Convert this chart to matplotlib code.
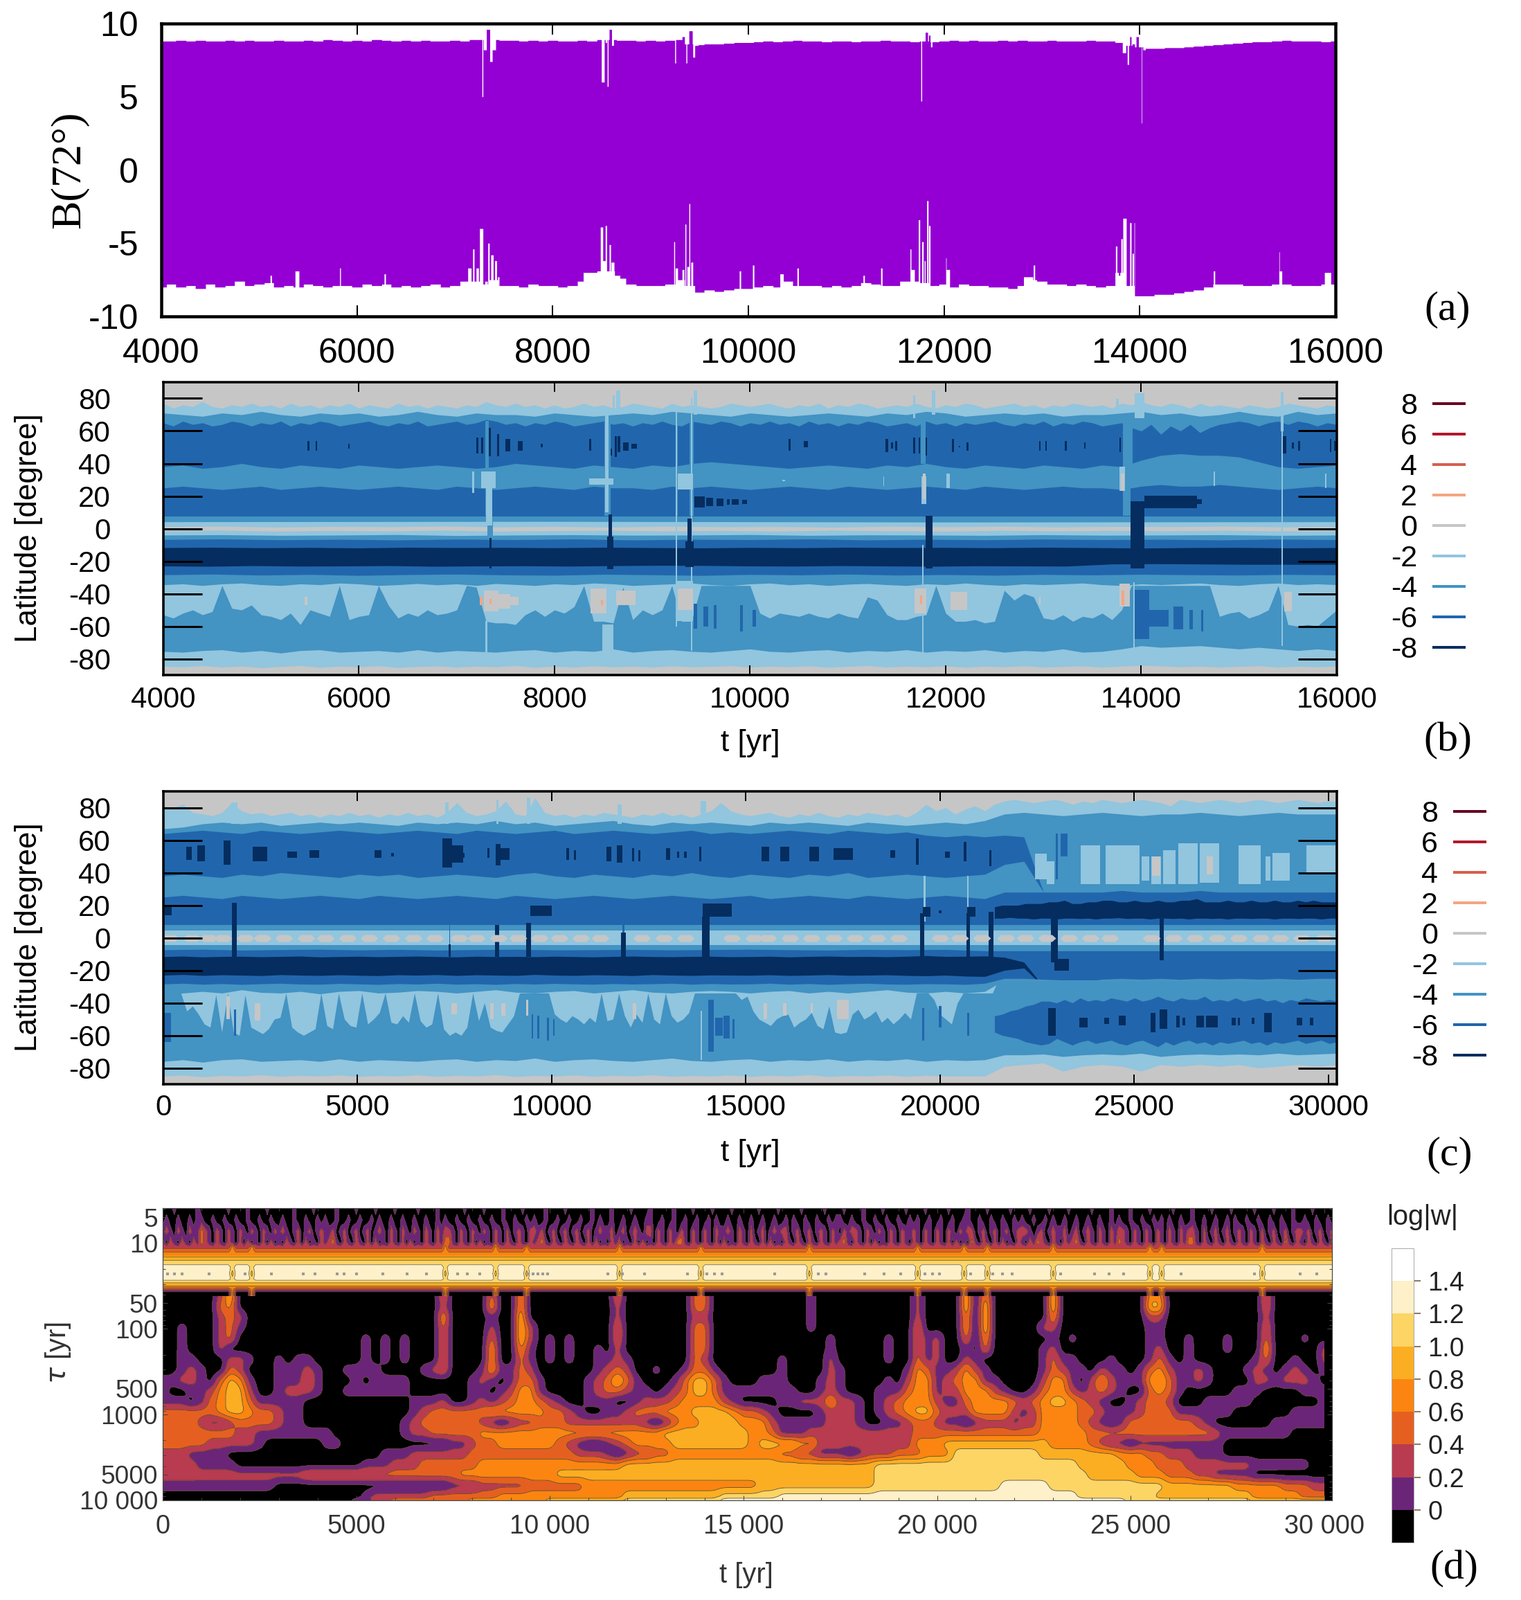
import numpy as np
import matplotlib
matplotlib.use('Agg')
import matplotlib.pyplot as plt
from matplotlib.lines import Line2D
from matplotlib import font_manager as fm

W, H = 2197, 2311
names = {f.name for f in fm.fontManager.ttflist}
SANS = ['Liberation Sans', 'DejaVu Sans']
NARROW = ['Liberation Sans Narrow', 'Liberation Sans'] if 'Liberation Sans Narrow' in names else SANS
SERIF = ['Liberation Serif', 'DejaVu Serif']
plt.rcParams['font.family'] = SANS
plt.rcParams['axes.unicode_minus'] = False

# ---------- shared ----------
LEV = {-8: '#052D5F', -6: '#2166AC', -4: '#4393C3', -2: '#92C5DE', 0: '#C6C6C6', 2: '#F4A582', 4: '#D6604D', 6: '#B2182B', 8: '#67001F'}
leg_vals = [8, 6, 4, 2, 0, -2, -4, -6, -8]

# ---------- panel a: envelope of B(72 deg), one value per 100 yr from 4000 ----------
a_up = [8.8,8.8,8.85,8.8,8.85,8.8,8.8,8.85,8.8,8.85,8.8,8.8,8.85,8.8,8.8,8.85,8.8,8.9,8.85,8.8,8.85,8.8,8.9,8.85,8.8,8.85,8.8,8.85,8.8,8.8,8.85,8.8,8.9,8.9,8.9,8.85,8.85,8.8,8.85,8.8,8.85,8.8,8.8,8.85,8.8,8.9,8.9,8.85,8.85,8.8,8.85,8.8,8.85,8.9,8.6,8.55,8.6,8.6,8.65,8.7,8.7,8.75,8.8,8.75,8.8,8.85,8.8,8.8,8.75,8.8,8.8,8.75,8.8,8.8,8.85,8.8,8.8,8.75,8.8,8.75,8.8,8.85,8.8,8.85,8.8,8.8,8.85,8.8,8.85,8.8,8.8,8.85,8.8,8.8,8.8,8.85,8.8,8.8,8.7,8.5,8.4,8.3,8.3,8.35,8.35,8.4,8.45,8.5,8.55,8.6,8.65,8.7,8.75,8.75,8.8,8.85,8.8,8.8,8.8,8.75,8.8]
a_lo = [-8.0,-7.8,-8.0,-7.9,-8.1,-7.8,-8.0,-7.9,-7.6,-7.9,-7.8,-7.7,-8.0,-7.9,-8.0,-7.8,-7.9,-8.0,-7.9,-7.9,-8.0,-7.8,-7.9,-7.8,-8.0,-7.9,-8.0,-7.9,-7.8,-8.0,-7.9,-7.6,-7.6,-7.8,-7.5,-7.9,-7.9,-8.0,-7.8,-7.9,-7.9,-8.0,-7.9,-7.6,-7.0,-6.9,-6.9,-7.4,-7.8,-7.9,-7.9,-7.9,-7.8,-7.5,-7.9,-8.35,-8.2,-8.3,-8.2,-8.1,-8.1,-8.0,-7.9,-8.0,-7.6,-7.9,-7.9,-7.9,-8.0,-7.9,-8.0,-7.9,-7.7,-7.8,-7.9,-7.9,-7.6,-7.6,-7.7,-7.9,-7.8,-8.0,-7.8,-7.9,-7.9,-8.0,-8.0,-8.1,-7.9,-7.5,-7.6,-7.8,-7.8,-7.9,-7.8,-7.9,-8.0,-7.9,-7.0,-7.9,-8.6,-8.6,-8.5,-8.5,-8.4,-8.3,-8.2,-8.0,-7.8,-7.8,-7.8,-7.9,-7.9,-7.9,-7.8,-7.8,-7.9,-7.9,-7.9,-7.8,-7.8]
a_up_t = [7283,7310,7340,7370,7400,8512,8545,8562,8590,8612,9254,9333,9368,9410,9443,9470,11767,11795,11820,11850,11868,13840,13880,13905,13935,13975,14005,14020,14045]
a_up_w = [12,30,30,20,30,30,15,12,20,20,10,25,10,30,20,30,10,20,25,15,15,30,12,15,20,20,10,8,20]
a_up_v = [5.0,8.2,9.6,7.4,8.2,6.0,8.7,5.7,9.6,8.5,7.3,9.1,7.3,9.5,7.7,8.5,4.7,8.8,9.4,9.2,8.4,8.0,7.2,9.1,8.6,9.1,8.4,3.2,8.2]
a_lo_t = [5120,5388,5826,6283,7150,7190,7230,7270,7318,7343,7378,7418,7443,8338,8375,8498,8527,8547,8587,8612,8660,9244,9265,9333,9358,9385,9398,9423,9915,10050,10340,10505,11180,11360,11660,11680,11743,11782,11802,11830,11850,12025,12040,12860,12920,13760,13790,13815,13845,13905,13930,13945,14760,15425,15440,15915,15920]
a_lo_w = [10,40,10,15,30,10,20,30,25,15,25,20,15,10,120,25,25,15,15,30,50,10,20,20,10,20,10,20,15,10,30,10,10,15,10,30,15,15,10,10,12,10,30,90,10,12,15,15,30,15,10,5,15,8,25,8,60]
a_lo_v = [-7.2,-6.9,-6.7,-7.1,-6.7,-5.4,-6.7,-4.0,-7.6,-5.0,-5.8,-6.2,-7.3,-5.5,-7.0,-3.9,-6.2,-3.8,-5.1,-6.3,-7.2,-4.9,-6.7,-6.8,-3.7,-6.6,-2.3,-6.3,-6.9,-6.5,-7.1,-6.7,-7.2,-6.7,-5.4,-6.8,-3.4,-4.9,-6.2,-2.1,-3.8,-6.0,-6.8,-7.3,-6.5,-5.2,-7.2,-4.7,-3.3,-3.6,-5.7,-3.6,-6.9,-5.6,-6.9,-5.8,-7.0]

# ---------- panel b: latitude of the top of each contour band ----------
b_e1 = [77,74,76,75,78,75,74,76,75,77,75,76,74,77,75,76,74,76,75,77,74,76,75,74,77,75,76,74,76,75,74,76,75,78,76,75,77,75,76,74,76,74,75,77,75,76,74,75,77,76,75,74,77,75,76,75,74,75,77,76,75,76,77,75,74,76,75,77,74,76,75,77,76,74,75,76,75,77,75,74,76,75,77,76,74,75,76,77,75,76,74,76,75,77,76,75,76,74,77,76,78,76,75,77,76,74,77,75,76,75,74,76,75,74,75,77,76,75,74,76,75]
b_e2 = [71,70,69,71,70,72,70,69,71,70,71,69,70,72,70,69,71,70,70,69,71,70,69,70,71,70,72,71,70,69,71,70,69,70,71,70,69,71,70,72,71,69,70,71,70,71,69,70,70,71,72,70,71,69,70,72,70,69,72,70,71]
b_e3 = [65,63,66,64,65,63,64,66,65,63,65,64,66,63,65,64,66,65,63,64,65,66,64,63,65,64,66,63,64,65,66,64,65,67,66,64,65,63,65,64,66,65,63,64,65,66,64,65,63,65,64,66,64,63,66,65,64,66,65,63,65,64,66,64,65,63,66,64,65,63,65,64,66,65,63,64,65,63,66,64,65,63,65,64,65,66,64,63,65,64,66,63,65,64,66,65,63,64,65,62,60,64,58,63,60,64,59,62,64,65,66,65,63,65,66,64,66,65,63,65,64]
b_e4 = [38,39,37,38,40,38,37,39,38,37,39,38,37,38,39,38,37,38,40,39,38,37,39,38,37,39,38,40,41,40,39,38,37,38,39,38,37,39,38,40,38,37,39,38,37,39,38,37,39,38,42,45,46,45,45,44,41,38,37,38,39]
b_e5 = [25,26,25,24,25,26,24,25,26,25,24,25,26,25,24,26,25,24,25,26,25,24,26,25,25,24,26,25,26,25,24,25,26,25,24,26,25,24,25,26,25,24,26,25,24,25,26,25,25,24,26,27,26,26,27,26,25,24,25,26,25]
b_e6 = [7.6,7.6]
b_e7 = [4.2,4.4,4.0,4.2]
b_e8 = [1.2,1.5,0.9,1.3,1.1,1.5,1.0,1.3,0.9,1.4,1.1,1.2,0.8,1.4,1.1,1.4,1.0,1.3,1.2,1.5,1.0,1.3]
b_e9 = [-1.4,-1.0,-1.6,-1.2,-1.5,-1.0,-1.6,-1.3,-1.1,-1.5,-1.2,-1.6,-1.0,-1.4,-1.6,-1.1,-1.5,-1.2,-1.4,-1.1,-1.5,-1.3]
b_e10 = [-4,-3.8,-4.2,-4,-3.7,-4.3,-4,-3.8,-4.1,-4,-3.7,-4.2,-3.9,-4,-4.2,-3.8,-4.1,-4,-3.8,-4.2,-4]
b_e11 = [-6.7,-6.4,-6.9,-6.6,-7,-6.5,-6.8,-6.4,-7,-6.6,-6.8,-6.4,-7,-6.6,-6.9,-6.5,-6.8,-6.6,-7,-6.5,-6.8]
b_e12 = [-11.7,-11.5,-11.8,-11.6,-11.9,-11.5,-11.7,-11.6,-11.8,-11.5,-11.7,-11.9,-11.6,-11.8,-11.5,-11.7,-11.6,-11.8,-11.5,-11.7,-12,-11.7,-11.6,-11.9,-11.7]
b_e13 = [-23,-23.2,-22.8,-23.1,-23,-22.8,-23.2,-23,-22.9,-23.1,-22.8,-22.6,-22.7,-23,-23.1,-22.8,-23,-23.2,-22.9,-23,-23.1,-21.8,-21.6,-21.8,-22,-22,-22]
b_e14 = [-28.4,-28,-28.6,-28.2,-28.8,-28.3,-28,-28.5,-28.7,-28.1,-28.4,-28.8,-28.2,-28.5,-28,-28.6,-28.3,-28.7,-28.2,-28.5,-28.1,-28.4,-28.6,-28.2,-28.5]
b_e15 = [-34.5,-34,-35,-34,-33.5,-34.5,-35,-34,-34.5,-33.5,-34,-35,-34.5,-33.8,-34.6,-34,-35,-33.8,-34.4,-35,-34,-34.5,-33.5,-34,-35,-34.5,-34,-33.5,-34.5,-35,-34,-33.5,-34.6,-34,-35,-34.2,-33.8,-34.5,-35,-34,-34.5,-33.5,-34.4,-35,-34,-34.5,-34,-33.5,-34.5,-35,-34,-34.5,-34,-33.5,-34.5,-35,-34,-33.5,-34.5,-34,-34.5]
b_e16 = [-53,-55,-52,-50,-53,-51,-35,-49,-50,-47,-53,-54,-56,-52,-59,-50,-52,-54,-35,-56,-54,-53,-35,-47,-55,-52,-54,-50,-53,-52,-50,-35,-36,-57,-58,-58,-59,-53,-50,-54,-50,-52,-48,-35,-57,-57,-58,-36,-56,-50,-53,-50,-35,-57,-57,-35,-35,-35,-35,-35,-35,-52,-55,-52,-53,-54,-52,-54,-55,-52,-54,-55,-42,-44,-53,-56,-56,-54,-53,-35,-52,-57,-57,-56,-58,-57,-38,-44,-40,-42,-55,-56,-53,-57,-54,-55,-52,-56,-50,-35,-35,-35,-35,-35,-35,-35,-35,-35,-54,-52,-51,-55,-53,-50,-35,-59,-60,-59,-60,-55,-50]
b_e17 = [-75.5,-76,-75,-74.5,-76,-75,-76.5,-75,-74.5,-76,-75.5,-75,-76,-74.5,-76,-75,-75.5,-76,-75,-74.5,-76,-75,-75.5,-74,-76,-75,-74.5,-75.5,-76,-75,-74,-75.5,-76,-75,-74.5,-76,-75,-75.5,-74.5,-76,-75,-75.5,-74.5,-76,-75,-75.5,-74,-76,-75.5,-74,-72,-73,-72.5,-72,-73,-74,-73,-74,-75,-74,-75]
b_e18 = [-84.6,-85,-84.2,-85.2,-84.5,-85.5,-84.8,-84.2,-85.3,-84.6,-85,-84.3,-85.4,-84.8,-84.4,-85.2,-84.6,-85,-84.2,-85.3,-84.7,-85.2,-84.4,-85,-84.6,-85.2,-84.4,-85,-84.7,-84.3,-85.2,-84.6,-85,-84.4,-85.3,-84.7,-84.2,-85.2,-84.6,-85,-84.4,-85.3,-84.6,-85,-84.3,-85.2,-84.8,-84.4,-85.2,-84.6,-84,-84.4,-85,-84.6,-85.2,-84.7,-84.3,-85.2,-84.6,-85,-84.5]
# contour patches of panel b: centre time, width, lower and upper latitude, level
b_t = [5483,5567,5895,7209,7259,7333,7423,7522,7647,7870,8366,8570,8626,8659,8729,8813,10405,10572,11397,11450,11495,11678,11730,11802,12074,12139,12223,12965,13025,13228,13421,13782,15465,15550,15614,15936,15985,
       9441,9547,9642,9910,10042,14005,14180,14378,14510,14625,
       11770,13880,7340,7310,8540,9250,9400,13850,
       7330,7300,7170,7325,8477,8535,8545,8650,8603,9246,9336,9336,9400,9441,11767,11780,11876,11678,12025,13806,13980,13757,13925,15440,15440,15886,14747,11366,10342,
       7350,7475,7580,8450,8729,9336,5460,11740,12135,13830,15502,12965,11780,13810,
       7250,8486,11750,13810,7345,
       7345,8570,8570,9380,9380,11827,13960,14300,14595,9483,9587,9693,9777,9846,9944]
b_w = [25,15,15,20,25,30,25,50,50,20,25,30,20,30,60,60,25,45,30,25,25,25,15,15,20,15,25,15,15,15,15,15,30,25,15,15,25,
       30,45,30,30,30,150,200,95,30,20,
       50,60,60,30,60,15,40,80,
       60,20,20,150,250,30,110,40,20,10,153,163,15,40,12,50,40,25,30,60,100,25,12,25,10,15,8,12,30,
       150,150,100,167,196,155,30,120,170,100,75,15,30,40,
       30,20,20,30,20,
       20,40,70,40,80,70,140,540,50,100,70,70,30,70,50]
b_lo = [48,48,49,46,46,44.5,44.5,47.5,48,50,48,45,44,47,48,49,48,50,47,49,48,46,46,45,47,50,48,48,48,48,49,47,46,49,48,47,48,
        -61.5,-60,-61.5,-63,-60,-68,-60,-62,-62,-63,
        40,40,-5,8,8,8,8,8,
        2,-85,22,25,27,10,-83,70,70,-60,24,-57,-75,70,-85,15,70,68,25,23,68,72,-77,60,-72,25,26,26,29,
        -51,-49,-47,-52,-47,-50,-47,-52,-50,-48,-51,-47,18,23,
        -47,-47,-46,-47,-46,
        -24.6,-5,-25,-8,-23.5,-24.6,-24.6,12.6,15,13,14,14,14.5,14.5,15]
b_hi = [54,54,52,56,56,62,58,55,54,52,55,49,57,57,53,52,55,54,55,53,54,56,56,56,55,51,53,54,54,54,53,56,57,53,54,55,54,
        -46,-48,-47,-47,-50,-37.5,-50,-48,-50,-50,
        66,66,5,66,66,66,66,66,
        32,-57,35,35,31,71,-59,85,82,75,34,-32,80,85,-10,32,85,82,34,38,83,80,-33,84,60,34,35,32,30,
        -38,-40,-42,-37,-38,-37,-42,-37,-39,-34,-39,-42,34,34,
        -42,-44,-41,-38,-43,
        -5.6,8.9,-5,6,-8,8,17,20,18,20,19,18.5,18,18,17.5]
b_lev = [-8]*37 + [-6]*10 + [-4]*8 + [-2]*29 + [0]*14 + [2]*5 + [-8]*15

# ---------- panel c ----------
c_e1 = [81,80,82,77,76,75,77,83,78,76,77,75,76,77,75,76,74,76,75,77,75,76,74,76,75,77,75,76,74,77,83,77,75,76,78,84,76,75,86,77,75,76,74,76,75,77,76,75,74,76,75,77,75,76,74,76,78,83,78,76,75,76,77,75,74,76,75,77,75,74,76,75,77,76,75,76,74,77,82,78,80,76,79,81,78,82,84,85,84,83,84,85,84,82,84,83,85,84,83,84,85,84,83,81,85,84,83,84,85,84,83,84,85,84,83,84,85,84,83,84,84]
c_e2 = [67,68,70,71,70,71,69,70,71,70,71,70,69,71,70,71,70,72,70,71,69,70,71,72,70,69,71,70,71,70,69,71,70,71,70,69,71,70,69,70,71,70,72,76,77,76,75,76,77,76,75,76,76,77,76,75,76,77,76,76,76]
c_e3 = [64,65,66,65,64,66,65,64,65,66,65,64,65,66,65,64,66,65,64,65,66,64,65,66,65,64,65,66,64,65,64,65,66,65,64,66,65,64,65,63,62,63,62,63,62,28,28,28,28,28,28,28,28,28,28,28,28,28,28,28,28]
c_e4 = [38,39,38,37,39,38,40,39,38,37,39,38,39,37,38,39,38,37,39,40,38,37,39,38,37,39,38,40,38,37,39,38,37,39,38,40,37,38,39,38,37,38,39,45,47,28,28,28,28,28,28,28,28,28,28,28,28,28,28,28,28]
c_e5 = [25,26,25,24,26,25,24,25,26,25,24,26,25,24,25,26,25,24,26,25,24,25,26,25,24,25,26,25,24,25,26,24,25,26,25,24,26,25,24,25,26,25,24,28,28,28,28,28,28,29,28,28,28,29,28,28,28,28,28,28,28]
c_e6 = [7.8,7.8]
c_e7 = [4.4,4.4]
c_e10 = [-4.5,-4.5]
c_e11 = [-7.4,-7.1,-7.6,-7.3,-7.1,-7.5,-7.2,-7.6,-7.3,-7.1,-7.5,-7.4,-7.2,-7.5,-7.3,-7.1,-7.4,-7.6,-7.2,-7.4,-7.2,-8,-8,-8,-8,-8,-8,-8,-8,-8,-8]
c_e12 = [-11.6,-11.3,-11.8,-11.5,-11.4,-11.7,-11.5,-11.3,-11.8,-11.6,-11.4,-11.7,-11.5,-11.3,-11.6,-11.8,-11.4,-11.6,-11.5,-11.7,-11.4,-11.6,-11.8,-11.5,-11.3,-11.6,-11.7,-11.5,-11.4,-11.7,-11.6,-11.4,-11.8,-11.5,-11.3,-11.6,-11.5,-11.7,-11.4,-11,-11.5,-11.4,-11.2,-12,-15,-30,-30,-30,-30,-30,-30,-30,-30,-30,-30,-30,-30,-30,-30,-30,-30]
c_e13 = [-23,-22.6,-23.2,-22.8,-23,-23.3,-22.7,-23,-23.2,-22.8,-23.1,-23.3,-22.8,-23,-22.7,-23.2,-22.8,-23,-23.2,-22.6,-23,-23.2,-22.8,-23,-23.3,-22.7,-23,-23.2,-22.9,-23,-23.1,-22.8,-23.2,-23,-22.7,-23.1,-23,-22.8,-23.2,-23.4,-23,-23.6,-23.8,-20,-18.6,-30,-30,-30,-30,-30,-30,-30,-30,-30,-30,-30,-30,-30,-30,-30,-30]
c_e14 = [-28.4,-28,-28.6,-28.2,-28.7,-28.3,-28,-28.5,-28.6,-28.1,-28.4,-28.7,-28.2,-28.5,-28,-28.6,-28.3,-28.7,-28.2,-28.5,-28.1,-28.4,-28.6,-28.2,-28.5,-28.3,-28,-28.6,-28.2,-28.5,-28.4,-28,-28.6,-28.2,-28.7,-28.3,-28,-28.5,-28.6,-28.3,-28.4,-28.7,-28,-25,-25,-25.5,-26,-27,-25.5,-25,-25.5,-25,-25.6,-25,-25.4,-25,-25.5,-25,-25.6,-25,-25]
c_e15 = [-35,-34,-33,-34,-32,-33.6,-34,-33,-34.5,-33,-32.5,-34,-33.5,-32.5,-33,-34,-33,-32,-33.5,-34,-33,-32.5,-34,-33,-32,-33.5,-34,-33,-32.5,-33,-34,-33,-32.5,-34,-33,-34,-33,-32,-33.5,-34,-33,-34,-33,-26,-26,-26,-26,-26,-26,-26,-26,-26,-26,-26,-26,-26,-26,-26,-26,-26,-26]
c_e16 = [-34,-34,-34,-34,-45,-42,-47,-53,-55,-35,-58,-34,-58,-60,-35,-55,-57,-59,-56,-50,-49,-34,-55,-58,-60,-58,-56,-34,-54,-56,-34,-50,-54,-55,-34,-53,-50,-46,-34,-52,-53,-48,-52,-34,-51,-55,-53,-34,-56,-60,-58,-60,-55,-34,-51,-40,-55,-57,-58,-53,-48,-34,-34,-34,-34,-34,-34,-47,-50,-52,-48,-50,-53,-49,-52,-34,-51,-50,-34,-48,-55,-47,-52,-34,-50,-53,-34,-48,-52,-50,-46,-34,-34,-34,-34,-34,-34,-34,-34,-38,-36,-45,-50,-52,-54,-50,-48,-47,-55,-52,-50,-46,-54,-56,-42,-58,-59,-58,-47,-44,-50,-48,-45,-52,-49,-53,-50,-46,-50,-34,-34,-34,-38,-47,-50,-53,-40,-34,-34,-34,-34,-34,-34] + [-26]*59
c_e17 = [-76,-75,-76.5,-75,-74.5,-76,-75.5,-75,-76,-74.5,-76,-75,-75.5,-76,-75,-74.5,-76,-75,-75.5,-74,-76,-75,-74.5,-75.5,-76,-75,-74,-75.5,-76,-75,-74.5,-76,-75,-75.5,-74.5,-76,-75,-75.5,-74.5,-76,-75,-75.5,-75,-72,-72,-71.5,-73,-72,-71.5,-72,-71,-73,-72,-71.5,-72,-71.5,-72,-71,-72,-71.5,-71]
c_e18 = [-85,-84.5,-85.5,-84.7,-85,-84.3,-85.2,-84.6,-85,-84.4,-85.3,-84.7,-85,-84.3,-85.2,-84.6,-85,-84.2,-85.3,-84.7,-85,-84.4,-85.2,-84.6,-85,-84.3,-85.2,-84.7,-85,-84.4,-85.3,-84.6,-85,-84.2,-85.3,-84.7,-85,-84.4,-85.2,-84.6,-85,-85,-85,-79,-78,-77,-82,-79,-78,-79,-82,-78,-79,-78,-79,-78,-80,-79,-78,-79,-78]
c_n8_top = [19,20,20,20,21,21,21,22,22,23,21,21,22,22,23,23,22,22,23,22,22,23,22,22,23,23,24,22,22,22,23,22,22,23,22,22,23,22,22,23,22,23,22,22,22]
c_n8_bot = [12,12,12.5,12,12,11.5,12,12,11.5,12,12,11.8,12,11.5,12,12,12.3,11.8,12,12,11.5,12,12,11.8,12,11.5,12,12,11.8,12,11.5,12,12,11.8,12,12,11.5,12,12,11.8,12,12,11.5,12,12]
c_s6_top = [-48,-47,-45,-44,-42,-41,-39,-39,-40,-38,-40,-37,-39,-38,-39,-37,-38,-39,-37,-39,-38,-36,-38,-39,-37,-38,-38,-36,-39,-38,-39,-37,-39,-38,-37,-39,-38,-40,-38,-39,-37,-38,-39,-38,-39]
c_s6_bot = [-58,-60,-61,-62,-64,-65,-66,-65,-62,-64,-66,-64,-63,-65,-64,-63,-65,-66,-64,-63,-65,-67,-64,-66,-64,-63,-65,-64,-66,-64,-65,-64,-63,-65,-64,-66,-64,-65,-64,-63,-65,-64,-63,-65,-64]
c_hex_t = [160,727,1165,1540,2105,2544,3108,3672,4173,4737,5300,5865,6430,6992,7619,8058,8622,9123,9687,10188,10752,11253,12318,12882,13446,14637,15200,15562,16125,16688,17250,17812,18375,18937,20000,20500,21062,21688,22188,22750,23312,23875,24375,25437,26000,26562,27125,27687,28250,28750,29312,29875]
c_t = [22590,22840,23875,24690,25280,25560,25900,26375,26940,27970,28440,28780,29800,
       25560,26940,1670,2420,7490,8460,8750,9370,12130,15500,16000,17500,16690,
       1830,7300,8600,9400,11750,13900,19600,20710,13850,
       100,1850,9500,9650,9900,10050,14100,14300,14500,14680,19560,20000,20725,23000,23190,
       11840,7370,8590,9400,
       660,975,1640,2480,3320,3885,5525,5900,7300,7530,7730,8370,8620,8785,10410,10600,11465,11750,12090,12255,13000,13250,13440,13820,15500,16000,16750,17500,18775,19410,20190,20640,21290,
       1830,7370,8590,9400,11840,13970,14260,9720,130,19540,19655,20000,20725,20800,21310,22940,23125,25700,
       22875,23690,24290,24690,25475,25750,26125,26275,26690,27000,27560,27690,28060,28440,29250,29560]
c_w = [310,190,500,875,190,250,310,500,500,560,125,440,750,
       200,150,100,150,150,100,100,60,100,100,100,300,60,
       150,100,60,100,100,150,40,30,25,
       190,60,50,50,50,40,150,200,150,40,60,60,60,60,190,
       60,30,30,30,
       150,190,190,375,250,250,175,60,250,375,60,60,125,250,60,60,125,150,60,60,100,60,60,60,190,225,250,500,125,60,125,60,60,
       125,50,100,125,125,190,760,560,185,100,190,60,100,220,125,175,370,100,
       190,225,125,190,125,190,100,60,190,310,100,60,60,190,150,100]
c_lo = [36,33,33,33,35,33,33,33,34,33,35,35,40,
        38,39,-50,-51,-47,-50,-48,-48,-50,-50,-48,-50,-46,
        70,70,70,70,70,72,10,10,-75,
        -64,-60,-62,-62,-63,-60,-70,-60,-62,-62,-63,-55,-60,36,50,
        3,-4,8,8,
        48,47,45,47,49,49,49,50,43,46,49,49,44.5,48,48,48,47,46,47,47,48,49,49,47,47,47,47,48,49,45,49,47,44,
        -11.6,-11.6,-11.6,-11.6,-12,-12,13,13.2,14,-11.6,13,15,-11.6,13,-12,-15,-20,-14,
        -60,-55,-53,-54,-58,-56,-55,-54,-55,-55,-54,-54,-53,-58,-54,-54]
c_hi = [51.5,47,57,57,50,50,54,58,58,57,50,52,57,
        50,50,-36,-40,-40,-40,-40,-38,-40,-40,-40,-38,-40,
        83,83,85,86,82,84,38,38,-45,
        -46,-44,-47,-48,-49,-50,-38,-49,-48,-50,-43,-42,-46,64,64,
        24,24,12,14,
        56,57,60,56,53,54,54,52,61,57,52,55,57.5,55,55,54,56,57,55,54,55,53,53,56,56,56,56,55,54,61,53,59,54,
        21.7,-4,8,9,3.3,13,21,19.6,19,15.3,19,17,15,19,16,11.8,-13,11.8,
        -43,-49,-49,-48,-46,-44,-48,-49,-48,-48,-49,-49,-49,-46,-49,-49]
c_lev = [-2]*13 + [0]*13 + [-2]*9 + [-6]*15 + [-6]*4 + [-8]*33 + [-8]*18 + [-8]*16

# ---------- panel d: log|w| classes, digit n means the class -0.2+0.2n .. 0.2n ----------
d_row_tau = [41,55,73,97,129,171,227,301,399,529,702,931,1235,1638,2172,2881,3821,5068,6721,8914,10000]
d_rows = [
"0000002500 0000000000 0000000003 0000300400 0000000300 0000033000 0000000100 0000000020 0005040000 0050000000 0044000000 0000300000 0",
"0000003400 0000000000 0000000002 0000400400 0000000200 0000033000 0000000100 0000000020 0005050000 0050000000 0055000000 0000300000 0",
"0000002320 0000000000 0000000004 0000100500 0000000200 0000022000 0000000100 0000000020 0004050000 0040000000 0022000000 0000200000 0",
"0010002310 0000000000 0000000003 0000200520 0000000300 0000033000 0000000100 0000000030 0004050000 0220000000 0011000000 0000300000 0",
"0010002300 0000000000 0101010003 0000300520 1010000300 0000033000 0000000001 0000010031 2003040000 0010100000 0011001000 1000300010 0",
"0010002000 0000000000 0101010003 0000400410 1010010200 0000033000 0000000001 0000010031 2001030000 0120000000 0012001000 1000400000 2",
"0011000221 0010110000 0101010003 0000400310 1010011210 0000032000 0000100002 0000010031 2002100000 0131100010 0013101000 0001300100 2",
"0012100320 0011121001 1110000123 0001411320 0000012320 0100133100 0000100002 1000000143 1124210000 0132110211 0134211210 0012101210 1",
"1122103541 0011131000 1011110000 0012101331 0000123531 0001355310 0011100012 1000010244 1234411000 0244102421 1145311210 0002212221 0",
"1001124552 0012221001 1111110000 0011012441 0000123321 1012355311 1111110012 1000111344 1224442100 1344212321 0034310000 0111000011 1",
"1110134553 1111100000 0000001112 0012123443 2100111001 2223444421 0000112224 2210123444 2113444432 3455432100 1233200011 1110000000 1",
"3333334554 3321100000 0000001233 3333444444 3321001123 3344455554 3321000012 2210123455 3222444421 2444433211 1233311111 1000000111 1",
"3333211233 3321100000 0000012333 3332101223 3322222222 1013445555 4442111112 2210011233 2110122212 2444432101 3333333210 0000011111 1",
"3333333322 1111111100 0000012233 3334444444 4444444444 4455555555 5443111222 2222222233 3333333333 3444443333 3333333332 1111111000 0",
"3333322222 1000000110 0000000000 1123344444 4321001234 4445555555 5455554422 2222222244 4555555555 5544443211 0111111111 0000000000 0",
"2221111000 0000000000 0001112222 2233333333 3332221012 2334444444 4444332211 1012223334 4466666666 6555555554 4433222111 0000000000 0",
"2222111100 0000000000 0111222333 3334444444 4444444455 5555555555 5555555555 5555666666 6666666666 6666655555 4443332222 2221111110 0",
"2222222222 2222233333 3333333333 3444444444 4555555555 5555555555 5555555555 5555666666 6666666666 6666665555 5444333221 1110000000 0",
"1111111111 1100000000 0000000000 1112222233 3333444444 4444444444 4455555555 5555666666 6666666777 7766666666 6666555555 5444443332 2",
"0000000000 0000000000 0122222233 3333344444 4444444455 5555555566 6666777777 7777777777 7777777777 7777766666 6665555555 5554444433 3",
"0000000000 0000000000 1122333333 3344444444 5555555566 6666666677 7777777777 7777777777 7777777777 7777777777 6666666666 6665555555 5",
]
# band around the 22 yr scale and the fine spikes above it, one digit per 100 yr
d_top_tau = [3.9, 5.35, 7.3, 9.7]
d_top_rows = [
"000100000100000001000010000100 000010000100000100001000010000 100000100001000000100001000010 000100000100001000000100001000 010000100000100001000010000100 000010000100000100000100001000 010000100000100001000001000010 000100000100001000010000100000 100001000010000100000100001000 010000100000100001000010000100 000",
"010010010110010010010010010010 010010010010100100100100101001 001001001001010010010010010010 010010100100100100100101001001 001001100100100100100101001001 001001001001010010010010110010 010010010010010100100100100110 010010010010100100101001001001 001001010010010010101001001001 001001010010010010010010010010 010",
"121021021132102102102102102102 121012012012112012012012012102 102102102102122102102102102102 012102212012012012012012112012 012102202102102102102102112102 102012012122012012012102102122 102102102102112102102102102122 012012012012221012012112012012 102102122102102102102102122102 012012012102102012012012212012 012",
"202102102132102102102020102020 102102020102123102102102020102 102020102102133102102020102102 102102123102102102102020102120 102020102102133102102102020102 102102020102102102102102123102 102020102102102102102102020103 102102020102102132102102123102 102102132102102102102102133102 102102102102102102103102102102 102",
]
d_band_tau = [11.2, 12.0, 13.5, 15.1, 16.7, 19, 22.7, 26.1, 28, 30, 32.3, 34.6, 37.7, 41]
d_band_base = [2, 3, 4, 5, 6, 7, 7, 7, 6, 5, 4, 2, 0, 0]
d_band_event = [4, 4, 4, 5, 6, 6, 5, 6, 6, 5, 4, 4, 4, 4]
d_event_t = [1800, 2300, 7300, 8600, 9400, 11800, 13900, 16700, 19500, 20700, 21300, 23000, 25500, 25800, 28400]
d_dots_t = [125,312,500,1190,2125,2810,3625,3940,4500,4690,5000,5690,6310,6810,7625,7875,8190,9440,9560,9690,9810,9940,11500,11875,12440,13560,14060,14250,14440,15810,16940,17125,18125,18625,19060,19690,19875,20060,20875,21440,21690,21940,23190,24060,24440,24810,26310,28190,29375,29810]
d_levels = [-0.2, 0, 0.2, 0.4, 0.6, 0.8, 1.0, 1.2, 1.4, 1.6]
d_colors = ['#000000', '#6B2578', '#B83B50', '#E56020', '#FB8510', '#FCAE22', '#FDD565', '#FEF0C8', '#FFFFFF']

# ---------- figure ----------
fig = plt.figure(figsize=(W / 100, H / 100), dpi=100)
def axes_px(l, t, r, b):
    return fig.add_axes([l / W, 1 - b / H, (r - l) / W, (b - t) / H])
def px(v):
    return v * 0.72

# panel a
axa = axes_px(233, 34, 1929, 457)
tt = np.arange(4000, 16001, 5.0)
idx = np.rint((tt - 4000) / 100).astype(int)
up = np.array(a_up)[np.minimum(idx, len(a_up) - 1)]
lo = np.array(a_lo)[np.minimum(idx, len(a_lo) - 1)]
for t, w, v in zip(a_up_t, a_up_w, a_up_v):
    up[np.abs(tt - t) <= w / 2] = v
for t, w, v in zip(a_lo_t, a_lo_w, a_lo_v):
    lo[np.abs(tt - t) <= w / 2] = v
axa.fill_between(tt, lo, up, step='mid', color='#9400D3', lw=0)
axa.set_xlim(4000, 16000); axa.set_ylim(-10, 10)
axa.set_xticks(range(4000, 16001, 2000)); axa.set_yticks(range(-10, 11, 5))
axa.tick_params(axis='x', direction='in', top=True, length=px(16), width=px(2), labelsize=px(50), pad=px(31))
axa.tick_params(axis='y', length=0, labelsize=px(50), pad=px(33))
axa.set_axisbelow(False)
for s in axa.spines.values():
    s.set_linewidth(px(4.5))
fig.text(100 / W, 1 - 245 / H, 'B(72°)', rotation=90, family=SERIF, fontsize=px(62), ha='center', va='center')
fig.text(2091 / W, 1 - 447 / H, '(a)', family=SERIF, fontsize=px(60), ha='center', va='center')

def contour_panel(ax, tlim, edges):
    ax.set_facecolor(LEV[0])
    for vals, lev in edges:
        t = np.linspace(tlim[0], tlim[1], len(vals))
        ax.fill_between(t, -90, vals, color=LEV[lev], lw=0)

def finish_panel(ax, tlim, xticks, xlab_y, leg_xy, letter, letter_xy, yl_y, pad_x, ysize):
    ax.bar(BAR[0], np.array(BAR[3]) - np.array(BAR[2]), width=BAR[1], bottom=BAR[2],
           color=[LEV[v] for v in BAR[4]], lw=0, align='center')
    ax.set_xlim(*tlim); ax.set_ylim(-90, 90)
    ax.set_xticks(xticks); ax.set_yticks(range(-80, 81, 20))
    ax.tick_params(axis='x', direction='in', top=True, length=px(14), width=px(2), labelsize=px(42), pad=px(pad_x))
    ax.tick_params(axis='y', direction='in', right=True, length=px(56), width=px(3), labelsize=px(ysize), pad=px(76))
    ax.set_axisbelow(False)
    for s in ax.spines.values():
        s.set_linewidth(px(3.5))
    h = [Line2D([], [], color=LEV[v], lw=px(4)) for v in leg_vals]
    ax.legend(h, [str(v) for v in leg_vals], loc='center', bbox_to_anchor=(leg_xy[0] / W, 1 - leg_xy[1] / H),
              bbox_transform=fig.transFigure, frameon=False, markerfirst=False, fontsize=px(43),
              handlelength=1.03, handletextpad=0.55, labelspacing=0.095, borderpad=0, borderaxespad=0)
    fig.text(1084 / W, 1 - xlab_y / H, 't [yr]', fontsize=px(44), ha='center', va='center')
    fig.text(42 / W, 1 - yl_y / H, 'Latitude [degree]', rotation=90, fontsize=px(44), ha='center', va='center')
    fig.text(letter_xy[0] / W, 1 - letter_xy[1] / H, letter, family=SERIF, fontsize=px(60), ha='center', va='center')

# panel b
axb = axes_px(236, 552, 1931, 975)
tb_lim = (4000, 16000)
contour_panel(axb, tb_lim, [(b_e1, -2), (b_e2, -4), (b_e3, -6), (b_e4, -4), (b_e5, -6), (b_e6, -4), (b_e7, -2), (b_e8, 0), (b_e9, -2),
                            (b_e10, -4), (b_e11, -6), (b_e12, -8), (b_e13, -6), (b_e14, -4), (b_e15, -2), (b_e16, -4), (b_e17, -2), (b_e18, 0)])
BAR = (b_t, b_w, b_lo, b_hi, b_lev)
finish_panel(axb, tb_lim, list(range(4000, 16001, 2000)), 1073, (2062, 763), '(b)', (2091, 1070), 763, 16, 42)

# panel c
axc = axes_px(236, 1143, 1931, 1566)
tc_lim = (0, 30214)
contour_panel(axc, tc_lim, [(c_e1, -2), (c_e2, -4), (c_e3, -6), (c_e4, -4), (c_e5, -6), (c_e6, -4), (c_e7, -2),
                            (c_e10, -4), (c_e11, -6), (c_e12, -8), (c_e13, -6), (c_e14, -4), (c_e15, -2), (c_e16, -4), (c_e17, -2), (c_e18, 0)])
ts = np.linspace(21400, 30214, len(c_n8_top))
axc.fill_between(ts, c_n8_bot, c_n8_top, color=LEV[-8], lw=0)
axc.fill_between(ts, c_s6_bot, c_s6_top, color=LEV[-6], lw=0)
hex_marker = [(-2.6, 0), (-1.5, 1), (1.5, 1), (2.6, 0), (1.5, -1), (-1.5, -1), (-2.6, 0)]
axc.scatter(c_hex_t, np.zeros(len(c_hex_t)), marker=hex_marker, s=px(26) ** 2, color=LEV[0], lw=0, zorder=2)
BAR = (c_t, c_w, c_lo, c_hi, c_lev)
finish_panel(axc, tc_lim, list(range(0, 30001, 5000)), 1665, (2092, 1352), '(c)', (2094, 1668), 1354, 14, 42)

# panel d
def refine(Z, n=6):
    ny, nx = Z.shape
    ix = np.linspace(0, nx - 1, (nx - 1) * n + 1)
    iy = np.linspace(0, ny - 1, (ny - 1) * n + 1)
    Zx = np.array([np.interp(ix, np.arange(nx), r) for r in Z])
    Zf = np.array([np.interp(iy, np.arange(ny), c) for c in Zx.T]).T
    k = np.array([1, 2, 3, 2, 1]) / 9.0
    for _ in range(2):
        Zf = np.apply_along_axis(lambda r: np.convolve(np.pad(r, 2, mode='edge'), k, mode='valid'), 1, Zf)
        Zf = np.apply_along_axis(lambda c: np.convolve(np.pad(c, 2, mode='edge'), k, mode='valid'), 0, Zf)
    return ix, iy, Zf

axd = axes_px(235, 1745, 1924, 2167)
axd.set_facecolor('black')
Z = np.array([[-0.1 + 0.2 * int(ch) for ch in r.replace(' ', '')] for r in d_rows])
ix, iy, Zf = refine(Z)
t_main = ix * 30000 / (Z.shape[1] - 1)
tau_main = 10 ** np.interp(iy, np.arange(len(d_row_tau)), np.log10(d_row_tau))
cs = axd.contourf(t_main, tau_main, Zf, levels=d_levels, colors=d_colors)
axd.contour(t_main, tau_main, Zf, levels=d_levels[1:-1], colors='#5A4A30', linewidths=0.6)
tops = np.array([[-0.1 + 0.2 * int(ch) for ch in r.replace(' ', '')] for r in d_top_rows])
t_top = np.arange(tops.shape[1]) * 100.0
band = np.tile(np.array(d_band_base, float)[:, None], (1, tops.shape[1]))
cols = np.rint(np.array(d_event_t) / 100).astype(int)
band[:, cols] = np.array(d_band_event)[:, None]
band = -0.1 + 0.2 * band
Zt = np.vstack([tops, band])
tau_t = d_top_tau + d_band_tau
axd.contourf(t_top, tau_t, Zt, levels=d_levels, colors=d_colors)
axd.contour(t_top, tau_t, Zt, levels=d_levels[1:-1], colors='#5A4A30', linewidths=0.5)
axd.scatter(d_dots_t, np.full(len(d_dots_t), 22.7), s=7, color='#9A9A9A', marker='s', lw=0, zorder=3)
axd.set_yscale('log')
axd.set_xlim(0, 30200); axd.set_ylim(10000, 3.9)
axd.set_xticks(range(0, 30001, 5000))
axd.set_xticklabels(['0', '5000', '10 000', '15 000', '20 000', '25 000', '30 000'], family=NARROW, color='#333333')
axd.set_xticks(range(0, 30001, 1000), minor=True)
axd.set_yticks([5, 10, 50, 100, 500, 1000, 5000, 10000])
axd.set_yticklabels(['5', '10', '50', '100', '500', '1000', '5000', '10 000'], family=NARROW, color='#333333')
axd.tick_params(axis='x', which='major', direction='in', top=True, length=px(7), width=px(1), labelsize=px(38), pad=px(20), color='#444444')
axd.tick_params(axis='x', which='minor', direction='in', top=True, length=px(4), width=px(1), color='#444444')
axd.tick_params(axis='y', which='major', direction='in', right=True, length=px(7), width=px(1), labelsize=px(37), pad=px(7), color='#444444')
axd.tick_params(axis='y', which='minor', direction='in', right=True, length=px(4), width=px(1), color='#444444', labelleft=False)
axd.set_axisbelow(False)
for s in axd.spines.values():
    s.set_linewidth(px(1.2)); s.set_color('#444444')
fig.text(1078 / W, 1 - 2275 / H, 't [yr]', family=NARROW, color='#333333', fontsize=px(40), ha='center', va='center')
fig.text(84 / W, 1 - 1954 / H, r'$\tau$ [yr]', rotation=90, color='#333333', fontsize=px(40), ha='center', va='center')
fig.text(2100 / W, 1 - 2266 / H, '(d)', family=SERIF, fontsize=px(60), ha='center', va='center')
cax = axes_px(2010, 1803, 2042, 2228)
cb = fig.colorbar(cs, cax=cax, ticks=[0, 0.2, 0.4, 0.6, 0.8, 1.0, 1.2, 1.4])
cb.ax.set_yticklabels(['0', '0.2', '0.4', '0.6', '0.8', '1.0', '1.2', '1.4'], family=NARROW, color='#222222')
cb.ax.tick_params(length=px(10), width=px(2), color='#8a7a60', labelsize=px(38), pad=px(10))
cb.outline.set_linewidth(px(1)); cb.outline.set_edgecolor('#AAAAAA')
fig.text(2055 / W, 1 - 1758 / H, 'log|w|', family=NARROW, color='#222222', fontsize=px(40), ha='center', va='center')

fig.savefig('out.png', dpi=100, facecolor='white')
